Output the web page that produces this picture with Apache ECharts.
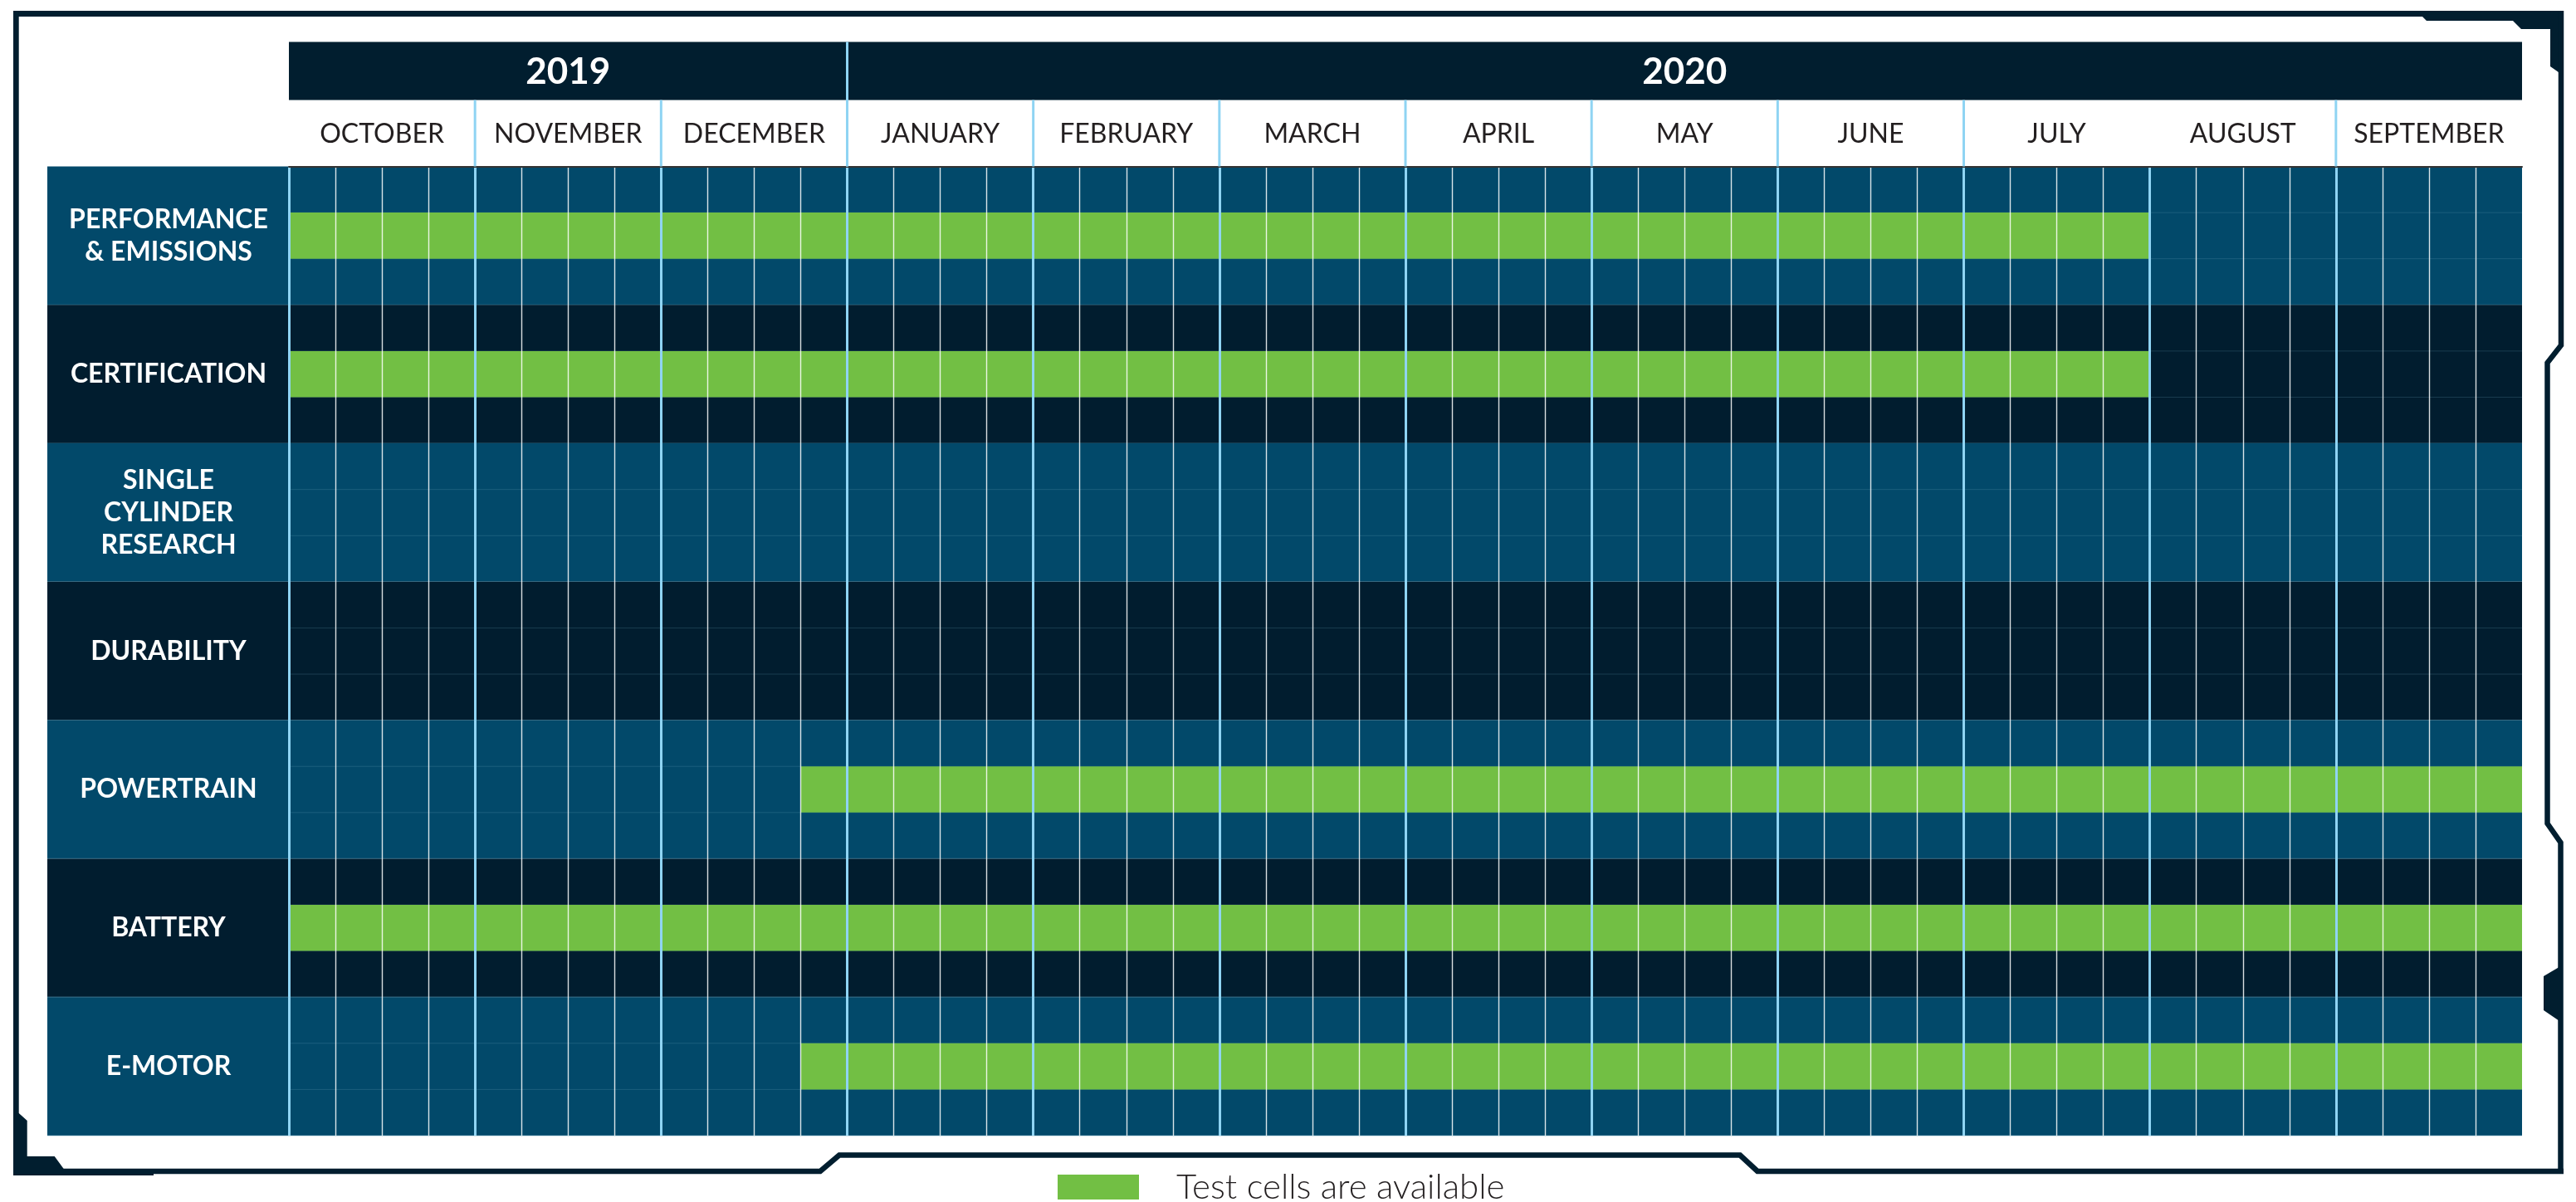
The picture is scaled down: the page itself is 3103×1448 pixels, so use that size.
<!DOCTYPE html>
<html>
<head>
<meta charset="utf-8">
<script src="https://cdn.jsdelivr.net/npm/echarts@6/dist/echarts.min.js"></script>
<style>
html,body{margin:0;padding:0;background:#ffffff;}
#c{width:3103px;height:1448px;}
</style>
</head>
<body>
<div id="c"></div>
<script>
// ---------------- DATA ----------------
const rows = ['PERFORMANCE\n& EMISSIONS', 'CERTIFICATION', 'SINGLE\nCYLINDER\nRESEARCH', 'DURABILITY', 'POWERTRAIN', 'BATTERY', 'E-MOTOR'];
const months = ['OCTOBER', 'NOVEMBER', 'DECEMBER', 'JANUARY', 'FEBRUARY', 'MARCH', 'APRIL', 'MAY', 'JUNE', 'JULY', 'AUGUST', 'SEPTEMBER'];
const years = ['2019', '2020'];
const yearStartMonth = [0, 3];
const yearEndMonth = [3, 12];
const weeksPerMonth = 4;
// availability window per row, in weeks from start of October 2019 (null = none)
const availStart = [0, 0, null, null, 11, 0, 11];
const availEnd = [40, 40, null, null, 48, 48, 48];
// month boundaries that carry a divider in the month header row
const headerDividers = [1, 2, 3, 4, 5, 6, 7, 8, 9, 11];
const legendLabel = 'Test cells are available';

// ---------------- STYLE ----------------
const TEAL = '#02496a';
const DARK = '#011d2f';
const NAVY = '#011e2f';
const GREEN = '#72bf44';
const BLUE = '#8fd4f3';
const LABEL_COL = 291;
const totalWeeks = months.length * weeksPerMonth;

const chart = echarts.init(document.getElementById('c'), null, {renderer: 'canvas'});

const rowData = rows.map((r, i) => [0, i]);
const barData = [];
rows.forEach((r, i) => {
  if (availStart[i] !== null) barData.push([availStart[i], availEnd[i], i]);
});
const yearData = years.map((y, i) => [yearStartMonth[i] * weeksPerMonth, yearEndMonth[i] * weeksPerMonth, 0]);
const dividerData = headerDividers.map(m => [m * weeksPerMonth, 0]);

function renderRow(params, api) {
  const cs = params.coordSys;
  const i = api.value(1);
  const c = api.coord([0, i]);
  const h = api.size([0, 1])[1];
  const top = c[1] - h / 2;
  const left = cs.x - LABEL_COL;
  const right = cs.x + cs.width;
  return {
    type: 'group',
    children: [
      {type: 'rect', shape: {x: left, y: top, width: right - left, height: h}, style: {fill: i % 2 ? DARK : TEAL}},
      {type: 'line', shape: {x1: cs.x, y1: top + h / 3, x2: right, y2: top + h / 3}, style: {stroke: 'rgba(120,175,195,0.22)', lineWidth: 1}},
      {type: 'line', shape: {x1: cs.x, y1: top + 2 * h / 3, x2: right, y2: top + 2 * h / 3}, style: {stroke: 'rgba(120,175,195,0.22)', lineWidth: 1}},
      {type: 'line', shape: {x1: left, y1: top + h, x2: right, y2: top + h}, style: {stroke: 'rgba(90,150,175,0.55)', lineWidth: 1.2}}
    ]
  };
}

function renderBar(params, api) {
  const i = api.value(2);
  const p0 = api.coord([api.value(0), i]);
  const p1 = api.coord([api.value(1), i]);
  const h = api.size([0, 1])[1];
  return {
    type: 'rect',
    shape: {x: p0[0], y: p0[1] - h / 6, width: p1[0] - p0[0], height: h / 3},
    style: {fill: GREEN}
  };
}

function renderYear(params, api) {
  const cs = params.coordSys;
  const s = api.coord([api.value(0), 0]);
  const e = api.coord([api.value(1), 0]);
  const top = cs.y - 150;
  const h = 70;
  const children = [
    {type: 'rect', shape: {x: s[0], y: top, width: e[0] - s[0], height: h}, style: {fill: NAVY}},
    {type: 'text', style: {text: years[params.dataIndex], x: (s[0] + e[0]) / 2, y: top + h / 2 + 1, align: 'center', verticalAlign: 'middle', fill: '#ffffff', fontSize: 44, fontWeight: 'bold', fontFamily: 'Lato'}}
  ];
  if (params.dataIndex > 0) {
    children.push({type: 'line', shape: {x1: s[0], y1: top, x2: s[0], y2: cs.y}, style: {stroke: BLUE, lineWidth: 3}});
  }
  return {type: 'group', children: children};
}

function renderDivider(params, api) {
  const cs = params.coordSys;
  const p = api.coord([api.value(0), 0]);
  return {type: 'line', shape: {x1: p[0], y1: cs.y - 80, x2: p[0], y2: cs.y}, style: {stroke: BLUE, lineWidth: 3}};
}

const option = {
  animation: false,
  backgroundColor: '#ffffff',
  grid: {left: 348, top: 200.5, width: 2690, height: 1167.5, containLabel: false},
  xAxis: [
    {type: 'value', min: 0, max: totalWeeks, interval: 1, position: 'bottom', z: 3,
     axisLine: {show: false}, axisTick: {show: false}, axisLabel: {show: false},
     splitLine: {show: true, showMinLine: false, showMaxLine: false, lineStyle: {color: 'rgba(255,255,255,0.85)', width: 1.4}}},
    {type: 'value', min: 0, max: months.length, interval: 1, position: 'bottom', z: 4,
     axisLine: {show: false}, axisTick: {show: false}, axisLabel: {show: false},
     splitLine: {show: true, showMinLine: true, showMaxLine: false, lineStyle: {color: BLUE, width: 3}}},
    {type: 'category', data: months, position: 'top', boundaryGap: true, z: 7,
     axisLine: {show: true, lineStyle: {color: '#333333', width: 2}}, axisTick: {show: false},
     splitLine: {show: false},
     axisLabel: {color: '#231f20', fontSize: 32, fontFamily: 'Lato', margin: 39, verticalAlign: 'middle', interval: 0}}
  ],
  yAxis: {
    type: 'category', data: rows, inverse: true, z: 6,
    axisLine: {show: false}, axisTick: {show: false}, splitLine: {show: false},
    axisLabel: {color: '#ffffff', fontSize: 32, fontWeight: 'bold', fontFamily: 'Lato', align: 'center', margin: 145, lineHeight: 39, interval: 0}
  },
  legend: {
    data: [legendLabel], left: 1274, top: 1409, padding: 0, icon: 'rect', itemWidth: 98, itemHeight: 30,
    selectedMode: false,
    textStyle: {color: '#231f20', fontSize: 42, fontWeight: 300, fontFamily: 'Lato', padding: [0, 0, 0, 40]}
  },
  series: [
    {type: 'custom', name: 'rows', z: 1, clip: false, xAxisIndex: 0, yAxisIndex: 0,
     renderItem: renderRow, encode: {x: 0, y: 1}, data: rowData, silent: true},
    {type: 'custom', name: legendLabel, z: 2, clip: false, xAxisIndex: 0, yAxisIndex: 0,
     itemStyle: {color: GREEN},
     renderItem: renderBar, encode: {x: [0, 1], y: 2}, data: barData},
    {type: 'custom', name: 'years', z: 8, clip: false, xAxisIndex: 0, yAxisIndex: 0,
     renderItem: renderYear, encode: {x: [0, 1], y: 2}, data: yearData, silent: true},
    {type: 'custom', name: 'dividers', z: 8, clip: false, xAxisIndex: 0, yAxisIndex: 0,
     renderItem: renderDivider, encode: {x: 0, y: 1}, data: dividerData, silent: true}
  ],
  graphic: [
    {type: 'rect', silent: true, shape: {x: 16, y: 13, width: 3072, height: 7}, style: {fill: NAVY}},
    {type: 'polygon', silent: true, shape: {points: [[2918, 13], [3088, 13], [3088, 87], [3082, 87], [3072, 80], [3072, 35], [3037, 35], [3027, 25], [2923, 25], [2918, 20]]}, style: {fill: NAVY}},
    {type: 'polyline', silent: true, shape: {points: [[3085, 13], [3085, 416], [3068.5, 437], [3068.5, 992], [3084.5, 1015], [3084.5, 1414]]}, style: {stroke: NAVY, lineWidth: 6.5, fill: null}},
    {type: 'polygon', silent: true, shape: {points: [[3086, 1163], [3064, 1176], [3064, 1217], [3086, 1232]]}, style: {fill: NAVY}},
    {type: 'polyline', silent: true, shape: {points: [[3088, 1411], [2117, 1411], [2096, 1391.5], [1011, 1391.5], [988, 1411], [20, 1411]]}, style: {stroke: NAVY, lineWidth: 6.5, fill: null}},
    {type: 'rect', silent: true, shape: {x: 16, y: 13, width: 6.7, height: 1403}, style: {fill: NAVY}},
    {type: 'polygon', silent: true, shape: {points: [[16, 1341], [22.7, 1341], [32.7, 1350], [32.7, 1393], [65.7, 1393], [76.7, 1408], [185, 1408], [185, 1416], [16, 1416]]}, style: {fill: NAVY}}
  ]
};

chart.setOption(option);
</script>
</body>
</html>
